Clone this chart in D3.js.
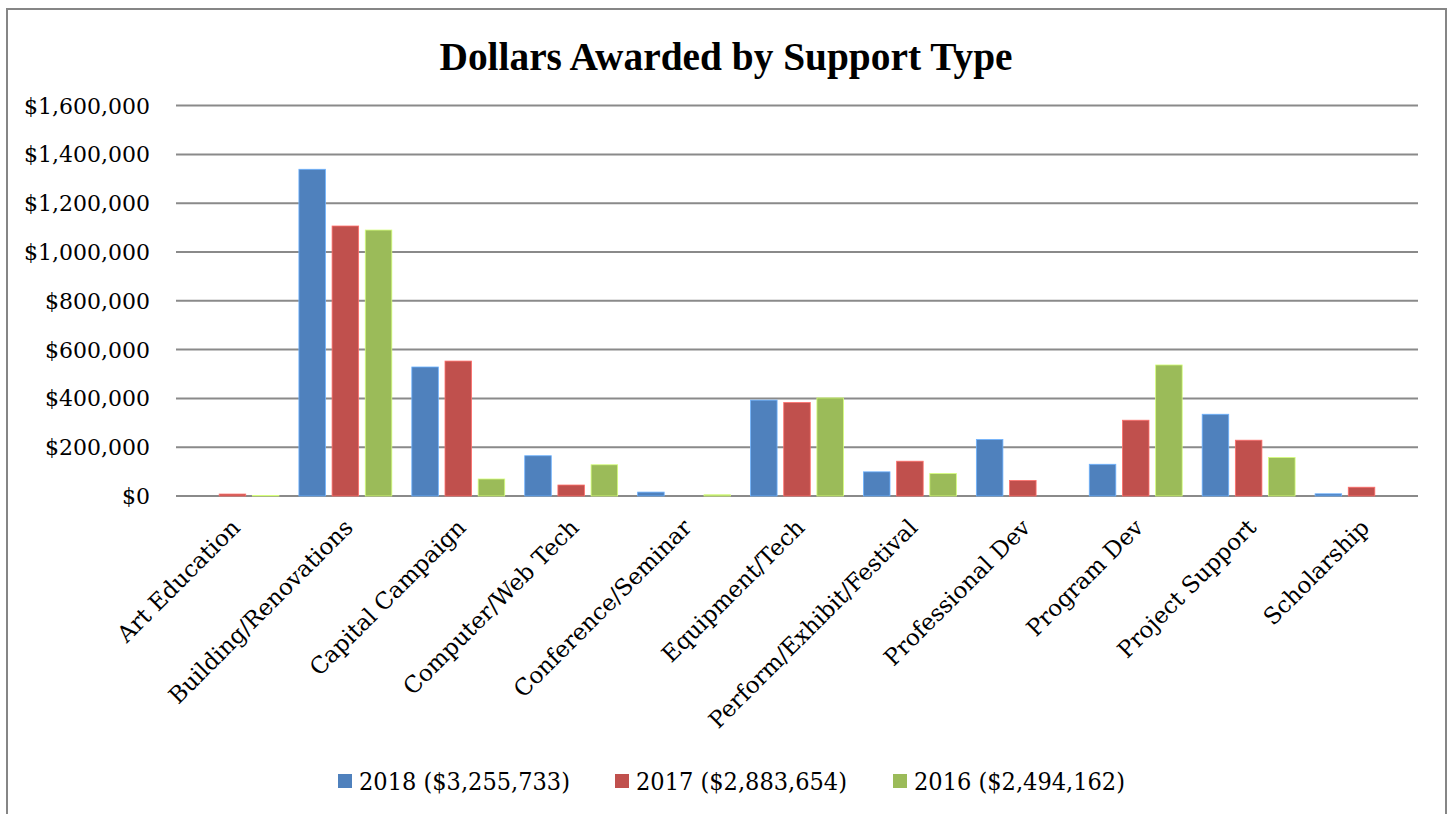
<!DOCTYPE html>
<html><head><meta charset="utf-8">
<script src="https://cdn.jsdelivr.net/npm/d3@7"></script>
<style>body{margin:0;background:#fff;} svg{display:block;}</style>
</head><body>
<svg id="c" width="1453" height="814"></svg>
<script>
const categories = ["Art Education","Building/Renovations","Capital Campaign","Computer/Web Tech","Conference/Seminar","Equipment/Tech","Perform/Exhibit/Festival","Professional Dev","Program Dev","Project Support","Scholarship"];
const seriesNames = ["2018 ($3,255,733)","2017 ($2,883,654)","2016 ($2,494,162)"];
const values2018 = [0,1339000,528700,165000,16000,393000,99000,231500,130000,335000,9000];
const values2017 = [8000,1106500,553000,45000,0,383000,142600,63500,310600,228700,36000];
const values2016 = [2000,1090000,69700,128000,5000,402000,92000,0,537000,157800,0];
const yTicks = [0,200000,400000,600000,800000,1000000,1200000,1400000,1600000];
const colors = ["#4F81BD","#C0504D","#9BBB59"];
const title = "Dollars Awarded by Support Type";

const series = [values2018, values2017, values2016];
const svg = d3.select("#c");
const font = "'DejaVu Serif', serif";

// frame
svg.append("rect").attr("x",7).attr("y",9).attr("width",1439).attr("height",820)
  .attr("fill","#fff").attr("stroke","#868686").attr("stroke-width",2);

const x0 = d3.scaleBand().domain(categories).range([176,1418]).padding(0);
const x1 = d3.scaleBand().domain([0,1,2]).range([10, x0.bandwidth()-10]).paddingInner(0.2);
const y = d3.scaleLinear().domain([0,1600000]).range([496,105.6]);

// gridlines
svg.append("g").selectAll("line").data(yTicks).join("line")
  .attr("x1",176).attr("x2",1418)
  .attr("y1",d=>y(d)).attr("y2",d=>y(d))
  .attr("stroke","#8a8a8a").attr("stroke-width",2);

// y labels
svg.append("g").selectAll("text").data(yTicks).join("text")
  .attr("x",150).attr("y",d=>y(d)).attr("dy","0.36em")
  .attr("text-anchor","end").attr("font-family",font).attr("font-size",22)
  .attr("fill","#000")
  .text(d=>d3.format("$,")(d));

// bars
const g = svg.append("g");
series.forEach((vals,si)=>{
  g.append("g").selectAll("rect").data(vals).join("rect")
    .attr("x",(d,i)=>x0(categories[i])+x1(si))
    .attr("width",x1.bandwidth())
    .attr("y",d=>y(d))
    .attr("height",d=>y(0)-y(d))
    .attr("fill",colors[si])
    .attr("stroke", d3.color(colors[si]).brighter(0.9))
    .attr("stroke-width",0.8);
});

// x labels
svg.append("g").selectAll("text").data(categories).join("text")
  .attr("transform",d=>`translate(${x0(d)+x0.bandwidth()/2+9},${529}) rotate(-45)`)
  .attr("text-anchor","end").attr("font-family",font).attr("font-size",23)
  .attr("fill","#000")
  .text(d=>d);

// title
svg.append("text").attr("x",726).attr("y",70).attr("text-anchor","middle")
  .attr("font-family","'Liberation Serif', serif").attr("font-weight","bold")
  .attr("font-size",40).attr("textLength",573).attr("lengthAdjust","spacingAndGlyphs")
  .text(title);

// legend
const legX = [338,615,893];
const leg = svg.append("g");
seriesNames.forEach((n,i)=>{
  leg.append("rect").attr("x",legX[i]).attr("y",774).attr("width",14).attr("height",14).attr("fill",colors[i]);
  leg.append("text").attr("x",legX[i]+21).attr("y",781).attr("dy","0.36em")
    .attr("font-family",font).attr("font-size",24)
    .attr("textLength",211).attr("lengthAdjust","spacingAndGlyphs")
    .text(n);
});
</script>
</body></html>
